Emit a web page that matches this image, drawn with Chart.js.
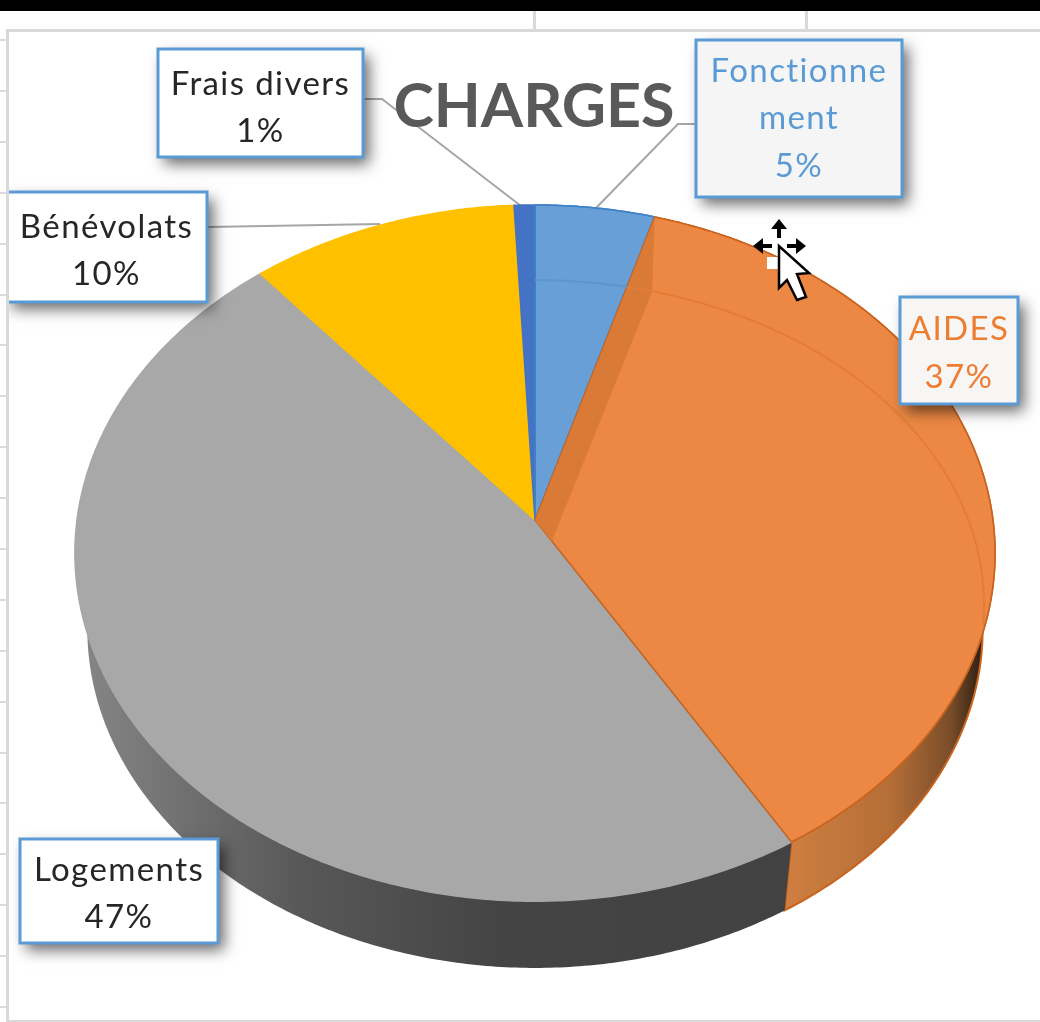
<!DOCTYPE html>
<html lang="fr">
<head>
<meta charset="utf-8">
<title>CHARGES</title>
<script src="https://cdn.jsdelivr.net/npm/chart.js@4/dist/chart.umd.js"></script>
<style>
  html, body { margin: 0; padding: 0; background: #fff; overflow: hidden; }
  canvas { display: block; }
</style>
</head>
<body>
<canvas id="chart" width="1040" height="1022"></canvas>
<script>
// Données
const categories = ['Fonctionnement', 'AIDES', 'Logements', 'Bénévolats', 'Frais divers'];
const shares = [4.6, 36.8, 47.48, 10.32, 0.8];
const sliceColors = ['#679fd6', '#ec8843', '#a8a8a8', '#ffc000', '#4472c4'];
const edgeColors = ['#3f83c7', '#c9641f', '#a8a8a8', '#ffc000', '#4472c4'];
const labelColors = ['#5b9bd5', '#ed7d31', '#262626', '#262626', '#262626'];
const labelFills = ['#f5f5f5', '#f7f6f5', '#ffffff', '#ffffff', '#ffffff'];
const chartTitle = 'CHARGES';

// Dégradés des flancs, de gauche à droite
const sideStops = [
  null,
  [[785, '#cf7f40'], [890, '#b56e37'], [950, '#7a4e2a'], [985, '#2a1a10']],
  [[85, '#858585'], [300, '#585858'], [500, '#444444'], [790, '#424242']],
  null,
  null
];

// Mise en page
const labelBoxes = [
  { x: 696, y: 40, w: 206, h: 157, dy: 0 },
  { x: 900, y: 297, w: 118, h: 107, dy: 3 },
  { x: 20, y: 839, w: 198, h: 104, dy: 3 },
  { x: 6, y: 192, w: 201, h: 110, dy: 4 },
  { x: 158, y: 49, w: 205, h: 108, dy: 5 }
];
const leaderLines = [
  [[695, 124], [678, 124], [596, 208]],
  [[365, 99], [382, 99], [521, 206]],
  [[208, 227], [380, 224]]
];

// Projection en perspective du disque
const CX = 535, CY = 520, RX = 458, RY = 345, PERSP = 0.095;
const BASE_SCALE = 0.973, BASE_DROP = 77;

function project(theta, r, base) {
  const u = r * Math.sin(theta);
  const v = r * Math.cos(theta);
  const w = 1 + PERSP * v;
  let x = CX + RX * u / w;
  let y = CY - RY * v / w;
  if (base) {
    x = CX + BASE_SCALE * (x - CX);
    y = CY + BASE_DROP + BASE_SCALE * (y - CY);
  }
  return [x, y];
}

function traceRim(ctx, from, to, base) {
  const steps = Math.max(2, Math.ceil(Math.abs(to - from) / 0.01));
  for (let i = 0; i <= steps; i++) {
    const p = project(from + (to - from) * i / steps, 1, base);
    ctx.lineTo(p[0], p[1]);
  }
}

function sliceAngles(arc) {
  return [arc.startAngle + Math.PI / 2, arc.endAngle + Math.PI / 2];
}

function traceTop(ctx, arc) {
  const a = sliceAngles(arc);
  ctx.beginPath();
  ctx.moveTo(CX, CY);
  traceRim(ctx, a[0], a[1], false);
  ctx.closePath();
}

function drawSide(ctx, arc, index) {
  if (!sideStops[index]) return;
  const a = sliceAngles(arc);
  const from = Math.max(a[0], 1.2);
  const to = Math.min(a[1], 5.1);
  if (to <= from) return;
  const stops = sideStops[index];
  const x0 = stops[0][0];
  const x1 = stops[stops.length - 1][0];
  const grad = ctx.createLinearGradient(x0, 0, x1, 0);
  stops.forEach(s => grad.addColorStop((s[0] - x0) / (x1 - x0), s[1]));
  ctx.beginPath();
  let p = project(from, 1, false);
  ctx.moveTo(p[0], p[1]);
  traceRim(ctx, from, to, false);
  traceRim(ctx, to, from, true);
  ctx.closePath();
  ctx.fillStyle = grad;
  ctx.fill();
  if (index === 1) {
    // liseré du bas et de l'arête
    ctx.beginPath();
    p = project(to, 1, false);
    ctx.moveTo(p[0], p[1]);
    traceRim(ctx, to, from, true);
    ctx.strokeStyle = arc.options.borderColor;
    ctx.lineWidth = 2;
    ctx.stroke();
  }
}

function drawBevel(ctx, arcs) {
  // bande sombre le long du bord de AIDES
  const start = project(sliceAngles(arcs[1])[0], 1, false);
  ctx.save();
  traceTop(ctx, arcs[1]);
  ctx.clip();
  ctx.beginPath();
  ctx.moveTo(CX, CY);
  ctx.lineTo(start[0], start[1]);
  ctx.lineTo(652, 292);
  ctx.lineTo(545, 558);
  ctx.lineTo(CX, 558);
  ctx.closePath();
  ctx.fillStyle = '#d97a36';
  ctx.fill();
  ctx.beginPath();
  ctx.ellipse(CX, 605, 449, 325, 0, -Math.PI * 0.5, Math.PI * 0.02);
  ctx.strokeStyle = '#e27c38';
  ctx.lineWidth = 2;
  ctx.stroke();
  ctx.restore();
  // même arc sur Fonctionnement
  ctx.save();
  traceTop(ctx, arcs[0]);
  ctx.clip();
  ctx.beginPath();
  ctx.ellipse(CX, 605, 449, 325, 0, -Math.PI * 0.5, -Math.PI * 0.3);
  ctx.strokeStyle = '#5b96d0';
  ctx.lineWidth = 2;
  ctx.stroke();
  ctx.restore();
}

function wrapLabel(ctx, text, maxWidth) {
  const lines = [];
  let line = '';
  for (const ch of text) {
    if (ctx.measureText(line + ch).width > maxWidth) {
      lines.push(line);
      line = ch;
    } else {
      line += ch;
    }
  }
  lines.push(line);
  return lines;
}

function drawLabels(ctx, total) {
  ctx.save();
  // les étiquettes sont coupées par le cadre du graphique
  ctx.beginPath();
  ctx.rect(9, 32, 1031, 988);
  ctx.clip();
  ctx.font = '33px Lato';
  ctx.letterSpacing = '1.4px';
  ctx.textAlign = 'center';
  ctx.textBaseline = 'middle';
  categories.forEach((name, i) => {
    const box = labelBoxes[i];
    ctx.save();
    ctx.shadowColor = 'rgba(0,0,0,0.6)';
    ctx.shadowBlur = 14;
    ctx.shadowOffsetX = 6;
    ctx.shadowOffsetY = 7;
    ctx.fillStyle = labelFills[i];
    ctx.fillRect(box.x, box.y, box.w, box.h);
    ctx.restore();
    ctx.strokeStyle = '#5b9bd5';
    ctx.lineWidth = 3;
    ctx.strokeRect(box.x, box.y, box.w, box.h);

    const lines = wrapLabel(ctx, name, box.w - 14);
    lines.push(Math.round(shares[i] / total * 100) + '%');
    const lineHeight = 47.5;
    const top = box.y + box.h / 2 + box.dy - lineHeight * (lines.length - 1) / 2;
    ctx.fillStyle = labelColors[i];
    lines.forEach((txt, k) => ctx.fillText(txt, box.x + box.w / 2, top + k * lineHeight));
  });
  ctx.restore();
}

function drawSheet(ctx) {
  // fond de feuille de calcul
  ctx.fillStyle = '#ffffff';
  ctx.fillRect(0, 0, 1040, 1022);
  ctx.fillStyle = '#d9d9d9';
  for (let y = 39; y < 1022; y += 50.9) ctx.fillRect(0, Math.round(y), 7, 2);
  ctx.fillRect(533, 11, 3, 19);
  ctx.fillRect(805, 11, 3, 19);
  ctx.fillRect(6, 29, 1034, 3);
  ctx.fillRect(6, 29, 3, 993);
  ctx.fillRect(6, 1020, 1034, 2);
  ctx.fillStyle = '#000000';
  ctx.fillRect(0, 0, 1040, 11);
}

function drawLeaders(ctx) {
  ctx.strokeStyle = '#a6a6a6';
  ctx.lineWidth = 2;
  leaderLines.forEach(line => {
    ctx.beginPath();
    line.forEach((p, i) => i ? ctx.lineTo(p[0], p[1]) : ctx.moveTo(p[0], p[1]));
    ctx.stroke();
  });
}

function drawCursor(ctx) {
  ctx.fillStyle = '#ffffff';
  ctx.fillRect(767, 257, 12, 12);
  ctx.strokeStyle = '#000000';
  ctx.fillStyle = '#000000';
  ctx.lineWidth = 4;
  ctx.beginPath();
  ctx.moveTo(779, 238); ctx.lineTo(779, 224);
  ctx.moveTo(772, 246); ctx.lineTo(758, 246);
  ctx.moveTo(787, 246); ctx.lineTo(801, 246);
  ctx.stroke();
  ctx.beginPath();
  ctx.moveTo(779, 219); ctx.lineTo(771, 229); ctx.lineTo(787, 229); ctx.closePath();
  ctx.moveTo(753, 246); ctx.lineTo(763, 238); ctx.lineTo(763, 254); ctx.closePath();
  ctx.moveTo(806, 246); ctx.lineTo(796, 238); ctx.lineTo(796, 254); ctx.closePath();
  ctx.fill();
  ctx.beginPath();
  ctx.moveTo(779, 246);
  ctx.lineTo(779, 288);
  ctx.lineTo(787, 280);
  ctx.lineTo(797, 300);
  ctx.lineTo(806, 297);
  ctx.lineTo(797, 274);
  ctx.lineTo(809, 273);
  ctx.closePath();
  ctx.fillStyle = '#ffffff';
  ctx.fill();
  ctx.lineWidth = 2.5;
  ctx.stroke();
}

const tiltedPie = {
  id: 'tiltedPie',
  beforeDraw(chart) {
    drawSheet(chart.ctx);
    drawLeaders(chart.ctx);
  },
  beforeDatasetDraw(chart, args) {
    const ctx = chart.ctx;
    const arcs = args.meta.data;
    ctx.save();
    arcs.forEach((arc, i) => drawSide(ctx, arc, i));
    arcs.forEach(arc => {
      traceTop(ctx, arc);
      ctx.fillStyle = arc.options.backgroundColor;
      ctx.fill();
      ctx.strokeStyle = arc.options.borderColor;
      ctx.lineWidth = arc.options.borderWidth;
      ctx.lineJoin = 'round';
      ctx.stroke();
    });
    // les deux tranches à liseré repassent au-dessus
    [0, 1].forEach(i => {
      traceTop(ctx, arcs[i]);
      ctx.strokeStyle = arcs[i].options.borderColor;
      ctx.lineWidth = arcs[i].options.borderWidth;
      ctx.stroke();
    });
    drawBevel(ctx, arcs);
    ctx.restore();
    return false;
  },
  afterDatasetsDraw(chart) {
    const ctx = chart.ctx;
    const total = shares.reduce((sum, v) => sum + v, 0);
    ctx.save();
    drawLabels(ctx, total);
    drawCursor(ctx);
    ctx.restore();
  }
};

new Chart(document.getElementById('chart'), {
  type: 'pie',
  data: {
    labels: categories,
    datasets: [{
      data: shares,
      backgroundColor: sliceColors,
      borderColor: edgeColors,
      borderWidth: 1.5
    }]
  },
  options: {
    responsive: false,
    animation: false,
    events: [],
    layout: { padding: { left: 28 } },
    plugins: {
      legend: { display: false },
      tooltip: { enabled: false },
      title: {
        display: true,
        text: chartTitle,
        fullSize: false,
        color: '#595959',
        font: { family: 'Lato', size: 61, weight: 'bold', lineHeight: 1.2 },
        padding: { top: 71, bottom: 0 }
      }
    }
  },
  plugins: [tiltedPie]
});
</script>
</body>
</html>
